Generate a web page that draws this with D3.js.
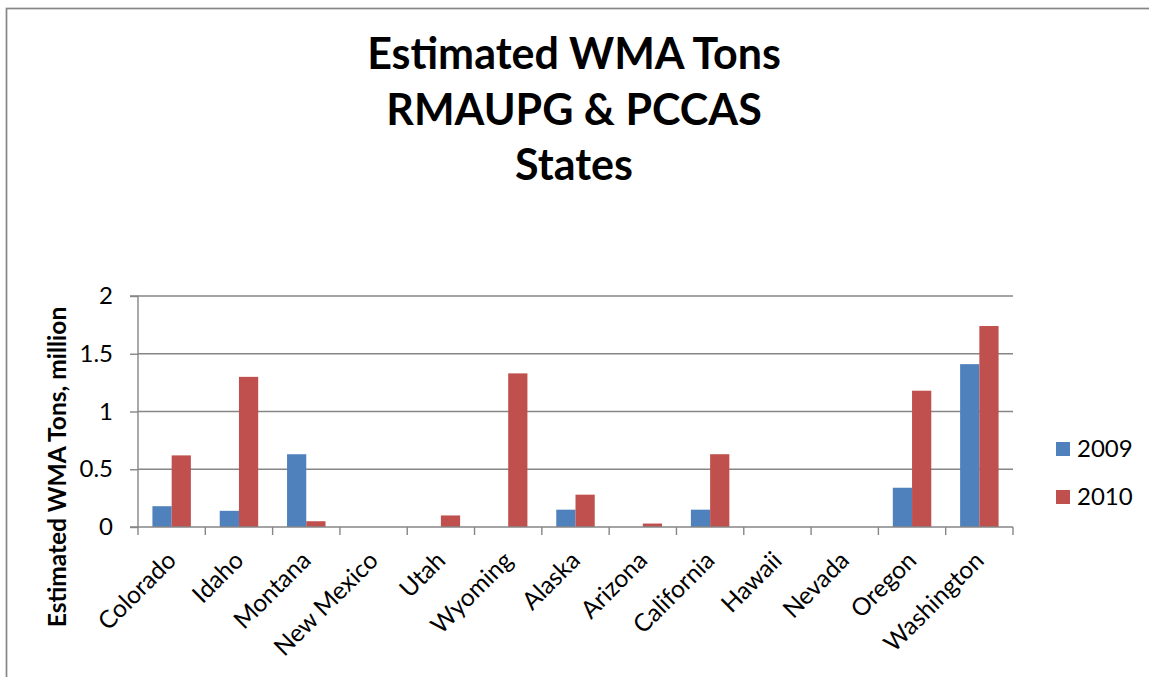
<!DOCTYPE html>
<html>
<head>
<meta charset="utf-8">
<script src="https://cdn.jsdelivr.net/npm/d3@7"></script>
<style>
  body { margin: 0; background: #fff; }
  text { font-family: Lato, "Open Sans", sans-serif; fill: #000; }
</style>
</head>
<body>
<div id="chart"></div>
<script>
// chart data
var states = ["Colorado", "Idaho", "Montana", "New Mexico", "Utah", "Wyoming", "Alaska",
  "Arizona", "California", "Hawaii", "Nevada", "Oregon", "Washington"];
var seriesNames = ["2009", "2010"];
var tons2009 = [0.18, 0.14, 0.63, 0, 0, 0, 0.15, 0, 0.15, 0, 0, 0.34, 1.41];
var tons2010 = [0.62, 1.30, 0.05, 0, 0.10, 1.33, 0.28, 0.03, 0.63, 0, 0, 1.18, 1.74];
var yTicks = [0, 0.5, 1, 1.5, 2];
var yTickLabels = ["0", "0.5", "1", "1.5", "2"];
var titleLines = ["Estimated WMA Tons", "RMAUPG & PCCAS", "States"];
var yTitle = "Estimated WMA Tons, million";
var colors = ["#4F81BD", "#C0504D"];
var gridColor = "#868686";

var width = 1149, height = 677;
var plot = { left: 138, right: 1013, top: 296, bottom: 527 };

var svg = d3.select("#chart").append("svg")
  .attr("width", width)
  .attr("height", height);

// outer chart border
svg.append("rect")
  .attr("x", 6.5).attr("y", 8.5)
  .attr("width", width + 20).attr("height", height + 20)
  .attr("fill", "none")
  .attr("stroke", gridColor)
  .attr("stroke-width", 1.7);

// title
svg.append("g").selectAll("text")
  .data(titleLines)
  .enter().append("text")
  .attr("x", 574)
  .attr("y", (d, i) => 69 + i * 55.5)
  .attr("text-anchor", "middle")
  .style("font-size", "43px")
  .style("font-weight", "bold")
  .text(d => d);

var x = d3.scaleBand()
  .domain(states)
  .range([plot.left, plot.right])
  .paddingInner(1.5 / 3.5)
  .paddingOuter(0.75 / 3.5);

var xs = d3.scaleBand()
  .domain(seriesNames)
  .range([0, x.bandwidth()]);

var y = d3.scaleLinear()
  .domain([0, 2])
  .range([plot.bottom, plot.top]);

// gridlines
svg.append("g")
  .selectAll("line")
  .data(yTicks.filter(d => d > 0))
  .enter().append("line")
  .attr("x1", plot.left).attr("x2", plot.right)
  .attr("y1", d => y(d)).attr("y2", d => y(d))
  .attr("stroke", gridColor)
  .attr("stroke-width", 1.4);

// y axis
var yAxis = svg.append("g")
  .attr("transform", `translate(${plot.left},0)`)
  .call(d3.axisLeft(y).tickValues(yTicks).tickFormat((d, i) => yTickLabels[i]).tickSize(8).tickPadding(17));
yAxis.selectAll("path, line").attr("stroke", gridColor).attr("stroke-width", 1.4);
yAxis.select(".domain").attr("d", `M-8,${plot.top}H0V${plot.bottom}H-8`);
yAxis.selectAll("text")
  .style("font-family", "Lato, sans-serif")
  .style("font-size", "24px");

// bars
var groups = svg.append("g").selectAll("g")
  .data(states)
  .enter().append("g")
  .attr("transform", d => `translate(${x(d)},0)`);

groups.selectAll("rect")
  .data((d, i) => [tons2009[i], tons2010[i]].map((v, j) => ({ key: seriesNames[j], value: v })))
  .enter().append("rect")
  .attr("x", d => xs(d.key))
  .attr("width", xs.bandwidth())
  .attr("y", d => y(d.value))
  .attr("height", d => y(0) - y(d.value))
  .attr("fill", (d, j) => colors[j]);

// x axis line + boundary ticks
var xAxis = svg.append("g");
xAxis.append("line")
  .attr("x1", plot.left).attr("x2", plot.right)
  .attr("y1", y(0)).attr("y2", y(0))
  .attr("stroke", gridColor).attr("stroke-width", 1.4);
xAxis.selectAll("line.tick")
  .data(d3.range(states.length + 1))
  .enter().append("line")
  .attr("class", "tick")
  .attr("x1", i => plot.left + i * x.step())
  .attr("x2", i => plot.left + i * x.step())
  .attr("y1", y(0)).attr("y2", y(0) + 8)
  .attr("stroke", gridColor).attr("stroke-width", 1.4);

xAxis.selectAll("text")
  .data(states)
  .enter().append("text")
  .attr("transform", d => `translate(${x(d) + x.bandwidth() / 2 + 6},${y(0) + 35}) rotate(-45)`)
  .attr("text-anchor", "end")
  .style("font-size", "24.5px")
  .text(d => d);

// y title
svg.append("text")
  .attr("transform", "translate(66,467) rotate(-90)")
  .attr("text-anchor", "middle")
  .style("font-size", "24.5px")
  .style("font-weight", "bold")
  .text(yTitle);

// legend
var legend = svg.append("g").selectAll("g")
  .data(seriesNames)
  .enter().append("g")
  .attr("transform", (d, i) => `translate(1056,${449 + i * 48})`);
legend.append("rect")
  .attr("x", 0).attr("y", -7)
  .attr("width", 14).attr("height", 14)
  .attr("fill", (d, i) => colors[i]);
legend.append("text")
  .attr("x", 21).attr("y", 8)
  .style("font-size", "24px")
  .text(d => d);
</script>
</body>
</html>
